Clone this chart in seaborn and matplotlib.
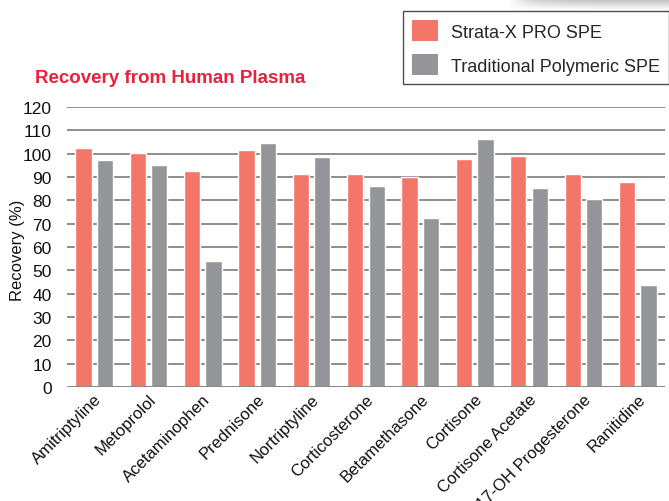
import matplotlib
matplotlib.use("Agg")
import matplotlib.pyplot as plt
from matplotlib.patches import Patch
import numpy as np
import pandas as pd
import seaborn as sns

# data
compounds = ["Amitriptyline", "Metoprolol", "Acetaminophen", "Prednisone",
             "Nortriptyline", "Corticosterone", "Betamethasone", "Cortisone",
             "Cortisone Acetate", "17-OH Progesterone", "Ranitidine"]
strata_x = [102.4, 100.3, 92.6, 101.6, 91.3, 91.3, 90.0, 97.7, 99.0, 91.3, 87.9]
traditional = [97.3, 95.1, 54.0, 104.6, 98.6, 86.1, 72.4, 106.3, 85.3, 80.6, 43.7]
series_names = ["Strata-X PRO SPE", "Traditional Polymeric SPE"]
colors = ["#F37669", "#949598"]

df = pd.DataFrame({
    "compound": compounds * 2,
    "recovery": strata_x + traditional,
    "method": [series_names[0]] * len(compounds) + [series_names[1]] * len(compounds),
})

sns.set_style("white")
plt.rcParams["font.family"] = ["Liberation Sans", "DejaVu Sans"]

fig = plt.figure(figsize=(6.69, 5.02), dpi=100)
ax = fig.add_axes([0.100, 0.227, 0.894, 0.558])

sns.barplot(data=df, x="compound", y="recovery", hue="method",
            palette=colors, width=0.79, gap=0.24, saturation=1,
            legend=False, ax=ax, zorder=3)

ax.set_ylim(0, 120)
ax.set_xlim(-0.5, len(compounds) - 0.5)
ax.set_yticks(range(0, 121, 10))
ax.yaxis.grid(True, color="#858585", linewidth=1.3, zorder=0)
ax.set_axisbelow(True)
for s in ax.spines.values():
    s.set_visible(False)
ax.axhline(0, color="#8a8a8a", linewidth=1.4, zorder=4)

ax.tick_params(axis="y", labelsize=12.5, length=0, pad=11, colors="#111111")
ax.tick_params(axis="x", length=0, pad=3)
ax.set_xticks(range(len(compounds)))
ax.set_xticklabels(compounds, rotation=45, ha="right", rotation_mode="anchor",
                   fontsize=12, color="#111111")
ax.set_xlabel("")
ax.set_ylabel("Recovery (%)", fontsize=12, color="#111111",
              va="center", ha="center")
ax.yaxis.set_label_coords(-0.082, 0.49)

fig.text(0.052, 0.835, "Recovery from Human Plasma", color="#E8213F",
         fontsize=13.5, fontweight="bold",
         family=["Liberation Sans Narrow", "Liberation Sans", "DejaVu Sans"])

# shadow at the top edge
shadow = fig.add_axes([0.76, 0.978, 0.24, 0.022])
grad = np.linspace(0.55, 1.0, 50).reshape(-1, 1) * np.ones((1, 100))
fade = np.linspace(1.0, 0.0, 100)
img = np.dstack([np.ones_like(grad) * 0.6] * 3 + [(1 - grad) * 1.6 * (1 - fade[None, :] ** 6)])
shadow.imshow(np.clip(img, 0, 1), aspect="auto", extent=[0, 1, 0, 1])
shadow.axis("off")

handles = [Patch(facecolor=c, edgecolor="none") for c in colors]
leg = fig.legend(handles, series_names, loc="upper left",
                 bbox_to_anchor=(0.603, 0.976), frameon=True, fancybox=False,
                 fontsize=13, handlelength=1.4, handleheight=1.4,
                 handletextpad=0.75, labelspacing=0.75, borderpad=0.5,
                 borderaxespad=0)
leg.get_frame().set_edgecolor("#222222")
leg.get_frame().set_linewidth(1.0)

fig.savefig("out.png", dpi=100)
